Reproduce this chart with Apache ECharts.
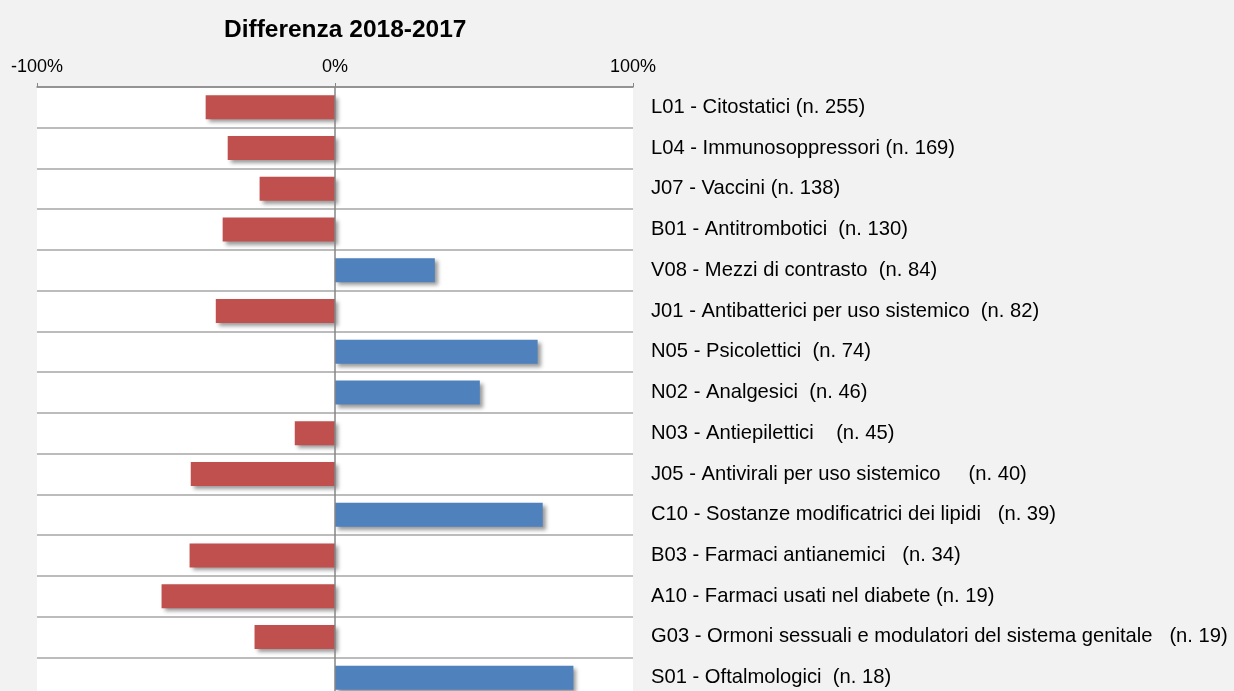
<!DOCTYPE html>
<html>
<head>
<meta charset="utf-8">
<script src="https://cdn.jsdelivr.net/npm/echarts@6/dist/echarts.min.js"></script>
<style>
  html, body { margin: 0; padding: 0; background: #f2f2f2; overflow: hidden; height: 691px; }
  #main { width: 1234px; height: 710px; }
</style>
</head>
<body>
<div id="main"></div>
<script>
// categorie (dall'alto in basso)
const categories = [
  "L01 - Citostatici (n. 255)",
  "L04 - Immunosoppressori (n. 169)",
  "J07 - Vaccini (n. 138)",
  "B01 - Antitrombotici  (n. 130)",
  "V08 - Mezzi di contrasto  (n. 84)",
  "J01 - Antibatterici per uso sistemico  (n. 82)",
  "N05 - Psicolettici  (n. 74)",
  "N02 - Analgesici  (n. 46)",
  "N03 - Antiepilettici    (n. 45)",
  "J05 - Antivirali per uso sistemico     (n. 40)",
  "C10 - Sostanze modificatrici dei lipidi   (n. 39)",
  "B03 - Farmaci antianemici   (n. 34)",
  "A10 - Farmaci usati nel diabete (n. 19)",
  "G03 - Ormoni sessuali e modulatori del sistema genitale   (n. 19)",
  "S01 - Oftalmologici  (n. 18)"
];
// differenza 2018-2017 (frazione)
const diff = [-0.434, -0.36, -0.253, -0.377, 0.335, -0.40, 0.68, 0.486, -0.135,
              -0.484, 0.697, -0.488, -0.582, -0.27, 0.80];
const xTicks = [-1, 0, 1];

const chart = echarts.init(document.getElementById("main"));

const option = {
  backgroundColor: "#f2f2f2",
  animation: false,
  textStyle: { fontFamily: "Liberation Sans, Arial, sans-serif" },
  title: {
    text: "Differenza 2018-2017",
    left: 219,
    top: 13,
    textStyle: { fontSize: 24.5, fontWeight: "bold", color: "#000" }
  },
  grid: {
    left: 37,
    top: 87,
    width: 596,
    height: 611,
    show: true,
    backgroundColor: "#fff",
    borderWidth: 0
  },
  xAxis: {
    type: "value",
    position: "top",
    min: xTicks[0],
    max: xTicks[xTicks.length - 1],
    interval: 1,
    axisLine: { show: true, lineStyle: { color: "#868686", width: 1.5 } },
    axisTick: { show: true, length: 4, lineStyle: { color: "#868686" } },
    splitLine: { show: false },
    axisLabel: {
      margin: 11,
      fontSize: 18,
      color: "#000",
      formatter: v => Math.round(v * 100) + "%"
    }
  },
  yAxis: {
    type: "category",
    data: categories,
    inverse: true,
    position: "right",
    axisLine: { show: false },
    axisTick: { show: false },
    splitLine: { show: true, lineStyle: { color: "#a6a6a6", width: 1.5 } },
    axisLabel: {
      margin: 18,
      fontSize: 20.2,
      color: "#000",
      align: "left"
    }
  },
  series: [
    {
      type: "bar",
      data: diff,
      barWidth: 24,
      itemStyle: {
        color: p => (p.value < 0 ? "#c0504d" : "#4f81bd"),
        shadowColor: "rgba(0,0,0,0.4)",
        shadowBlur: 4,
        shadowOffsetX: 3,
        shadowOffsetY: 3
      },
      markLine: {
        silent: true,
        symbol: "none",
        label: { show: false },
        lineStyle: { color: "#868686", width: 1.5, type: "solid" },
        data: [{ xAxis: 0 }]
      }
    }
  ]
};

chart.setOption(option);
</script>
</body>
</html>
